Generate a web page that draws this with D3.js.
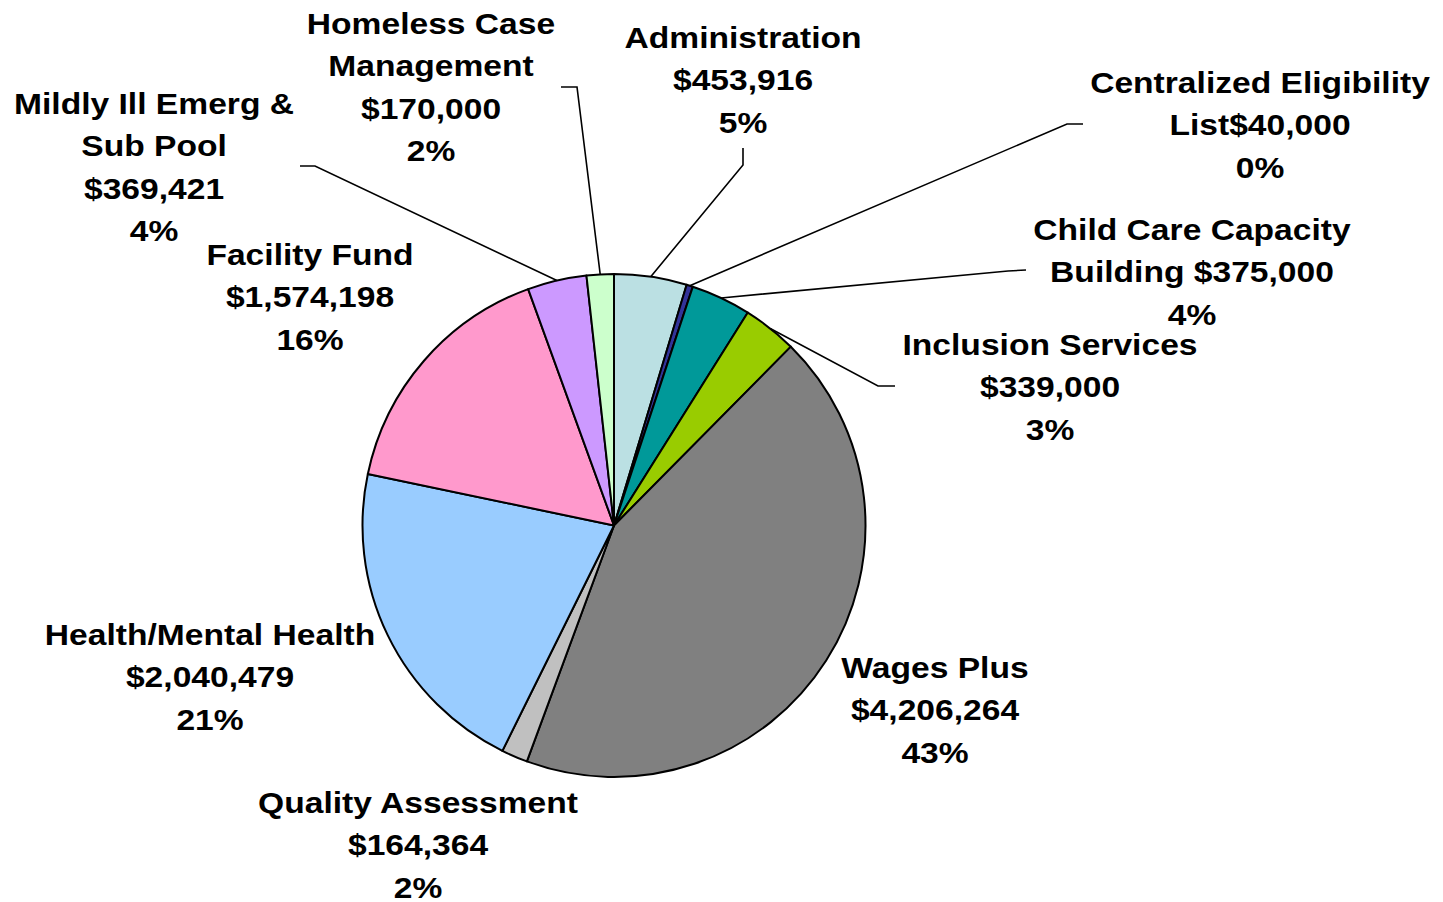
<!DOCTYPE html>
<html>
<head>
<meta charset="utf-8">
<script src="https://cdn.jsdelivr.net/npm/d3@7"></script>
<style>
  html, body { margin: 0; padding: 0; background: #fff; }
  svg { display: block; }
  .lbl { font-family: "Liberation Sans", Arial, sans-serif; font-weight: bold; font-size: 30px; fill: #000; }
</style>
</head>
<body>
<svg id="chart" width="1443" height="902"></svg>
<script>
// Budget categories, clockwise from 12 o'clock
const categories = [
  "Administration",
  "Centralized Eligibility List",
  "Child Care Capacity Building",
  "Inclusion Services",
  "Wages Plus",
  "Quality Assessment",
  "Health/Mental Health",
  "Facility Fund",
  "Mildly Ill Emerg & Sub Pool",
  "Homeless Case Management"
];
const amounts = [453916, 40000, 375000, 339000, 4206264, 164364, 2040479, 1574198, 369421, 170000];
const colors = ["#BBE0E3", "#333399", "#009999", "#99CC00", "#808080", "#C0C0C0", "#99CCFF", "#FF99CC", "#CC99FF", "#CCFFCC"];

// How each category name wraps; joinAmount says whether the dollar figure
// continues the last name line (with the given separator) or starts a new one.
const nameLines = [
  ["Administration"],
  ["Centralized Eligibility", "List"],
  ["Child Care Capacity", "Building"],
  ["Inclusion Services"],
  ["Wages Plus"],
  ["Quality Assessment"],
  ["Health/Mental Health"],
  ["Facility Fund"],
  ["Mildly Ill Emerg &", "Sub Pool"],
  ["Homeless Case", "Management"]
];
const joinAmount = [null, "", " ", null, null, null, null, null, null, null];

// Label placement: anchor (centre x, first baseline) and optional leader elbow/end
const labelLayout = [
  { x: 743,  y: 48,  elbow: [743, 165],  end: [743, 148] },
  { x: 1260, y: 93,  elbow: [1067, 124], end: [1083, 124] },
  { x: 1192, y: 240, elbow: [1008, 271], end: [1026, 270] },
  { x: 1050, y: 355, elbow: [878, 386],  end: [895, 386] },
  { x: 935,  y: 678 },
  { x: 418,  y: 813 },
  { x: 210,  y: 645 },
  { x: 310,  y: 265 },
  { x: 154,  y: 114, elbow: [315, 166],  end: [300, 166] },
  { x: 431,  y: 34,  elbow: [577, 87],   end: [561, 87] }
];

const cx = 614, cy = 525.5, radius = 251.5;
const lineStep = 42.5, stretchX = 1.12;

const total = d3.sum(amounts);
const money = d3.format("$,.0f");
const data = categories.map((c, i) => ({ name: c, value: amounts[i], i }));

const svg = d3.select("#chart");
const g = svg.append("g").attr("transform", `translate(${cx},${cy})`);

const pie = d3.pie().value(d => d.value).sort(null).startAngle(0).endAngle(2 * Math.PI);
const arc = d3.arc().innerRadius(0).outerRadius(radius);
const arcs = pie(data);

g.selectAll("path.slice")
  .data(arcs)
  .join("path")
  .attr("class", "slice")
  .attr("d", arc)
  .attr("fill", d => colors[d.data.i])
  .attr("stroke", "#000")
  .attr("stroke-width", 2)
  .attr("stroke-linejoin", "round");

// Leader lines from the slice's outer edge to its label
const leaders = svg.append("g");
arcs.forEach(a => {
  const L = labelLayout[a.data.i];
  if (!L.elbow) return;
  const mid = (a.startAngle + a.endAngle) / 2;
  const p0 = [cx + radius * Math.sin(mid), cy - radius * Math.cos(mid)];
  leaders.append("path")
    .attr("d", d3.line()([p0, L.elbow, L.end]))
    .attr("fill", "none")
    .attr("stroke", "#000")
    .attr("stroke-width", 1.6);
});

// Data labels: name, amount, percentage
const labels = svg.append("g");
data.forEach(d => {
  const L = labelLayout[d.i];
  const lines = nameLines[d.i].slice();
  const amt = money(d.value);
  if (joinAmount[d.i] !== null) {
    lines[lines.length - 1] += joinAmount[d.i] + amt;
  } else {
    lines.push(amt);
  }
  lines.push(Math.round(d.value / total * 100) + "%");

  const t = labels.append("text")
    .attr("class", "lbl")
    .attr("text-anchor", "middle")
    .attr("transform", `translate(${L.x},${L.y}) scale(${stretchX},1)`);
  lines.forEach((s, k) => {
    t.append("tspan").attr("x", 0).attr("y", k * lineStep).text(s);
  });
});
</script>
</body>
</html>
